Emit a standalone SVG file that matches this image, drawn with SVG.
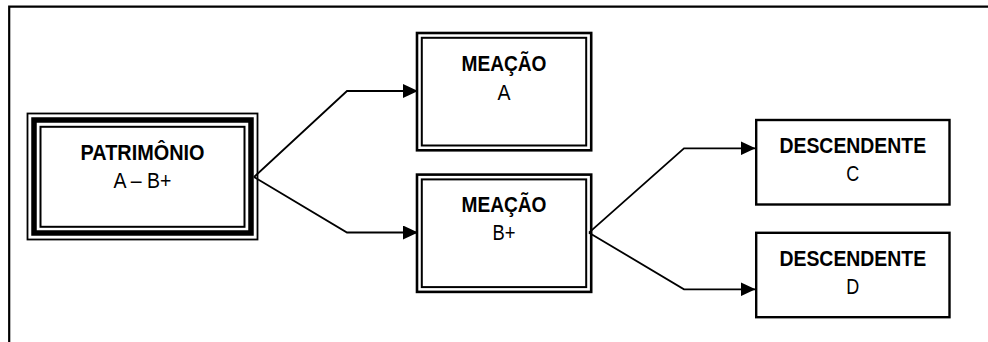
<svg xmlns="http://www.w3.org/2000/svg" width="988" height="342" viewBox="0 0 988 342">
<style>
.t{font-family:"Liberation Sans",Arial,sans-serif;font-size:21.5px;text-anchor:middle;fill:#000}
.b{font-weight:bold}
.ln{fill:none;stroke:#000}
.conn{fill:none;stroke:#000;stroke-width:1.8}
</style>
<defs>
<marker id="ah" markerUnits="userSpaceOnUse" markerWidth="15" markerHeight="14" refX="15" refY="7" orient="auto">
<path d="M0,0 L15,7 L0,14 z" fill="#000"/>
</marker>
</defs>
<rect width="988" height="342" fill="#fff"/>
<g id="frame">
<path class="ln" stroke-width="2.2" d="M9.2,342 L9.2,6.7 L988,6.7"/>
</g>
<g id="connectors">
<path class="conn" d="M254,177 L347,91 L418,91" marker-end="url(#ah)"/>
<path class="conn" d="M254,177 L347,232.5 L418,232.5" marker-end="url(#ah)"/>
<path class="conn" d="M589,232.7 L684,148.3 L755.5,148.3" marker-end="url(#ah)"/>
<path class="conn" d="M589,232.7 L684,289.3 L755.5,289.3" marker-end="url(#ah)"/>
</g>
<g id="patrimonio">
<rect x="27.5" y="113.5" width="230" height="126" fill="#fff" class="ln" stroke-width="1.8"/>
<rect x="34" y="120" width="217" height="113" class="ln" stroke-width="5.5"/>
<rect x="40.5" y="126.8" width="204" height="100" class="ln" stroke-width="2"/>
<text class="t b" x="142.5" y="160" textLength="124" lengthAdjust="spacingAndGlyphs">PATRIMÔNIO</text>
<text class="t" x="142.5" y="187.7" textLength="58" lengthAdjust="spacingAndGlyphs">A – B+</text>
</g>
<g id="meacao-a">
<rect x="417" y="33" width="174.2" height="117.3" fill="#fff" class="ln" stroke-width="2.6"/>
<rect x="421.8" y="37.8" width="164.4" height="107.7" class="ln" stroke-width="2"/>
<text class="t b" x="504" y="71" textLength="85" lengthAdjust="spacingAndGlyphs">MEAÇÃO</text>
<text class="t" x="504" y="100" textLength="13" lengthAdjust="spacingAndGlyphs">A</text>
</g>
<g id="meacao-b">
<rect x="417" y="174.6" width="174.2" height="117.3" fill="#fff" class="ln" stroke-width="2.6"/>
<rect x="421.8" y="179.4" width="164.4" height="107.7" class="ln" stroke-width="2"/>
<text class="t b" x="504" y="211.7" textLength="85" lengthAdjust="spacingAndGlyphs">MEAÇÃO</text>
<text class="t" x="504" y="240" textLength="23" lengthAdjust="spacingAndGlyphs">B+</text>
</g>
<g id="descendente-c">
<rect x="756.2" y="120" width="193.3" height="84.5" fill="#fff" class="ln" stroke-width="2.4"/>
<text class="t b" x="852.8" y="152.7" textLength="146.7" lengthAdjust="spacingAndGlyphs">DESCENDENTE</text>
<text class="t" x="852.8" y="181" textLength="13" lengthAdjust="spacingAndGlyphs">C</text>
</g>
<g id="descendente-d">
<rect x="756.2" y="232.8" width="193.3" height="84.4" fill="#fff" class="ln" stroke-width="2.4"/>
<text class="t b" x="852.8" y="265.7" textLength="146.7" lengthAdjust="spacingAndGlyphs">DESCENDENTE</text>
<text class="t" x="852.8" y="294" textLength="13" lengthAdjust="spacingAndGlyphs">D</text>
</g>
</svg>
